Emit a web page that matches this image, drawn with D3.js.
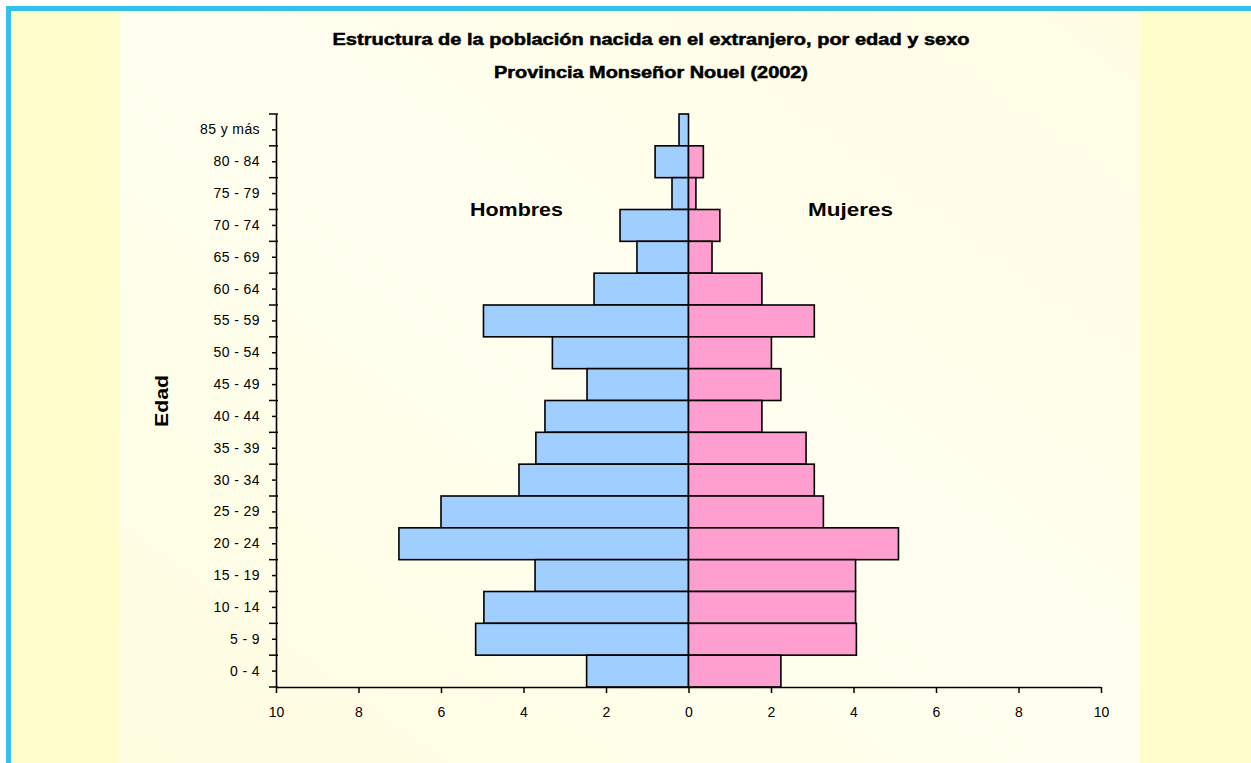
<!DOCTYPE html>
<html>
<head>
<meta charset="utf-8">
<script src="https://cdn.jsdelivr.net/npm/d3@7"></script>
<style>
html,body{margin:0;padding:0;background:#ffffff;}
svg{display:block;}
</style>
</head>
<body>
<svg id="chart" width="1251" height="763"></svg>
<script>
const ageGroups = ["85 y más","80 - 84","75 - 79","70 - 74","65 - 69","60 - 64","55 - 59","50 - 54","45 - 49","40 - 44","35 - 39","30 - 34","25 - 29","20 - 24","15 - 19","10 - 14","5 - 9","0 - 4"];
const hombres = [0.23,0.81,0.40,1.66,1.25,2.29,4.97,3.30,2.46,3.48,3.70,4.11,6.00,7.02,3.72,4.96,5.16,2.47];
const mujeres = [0.00,0.36,0.18,0.76,0.57,1.78,3.05,2.01,2.24,1.78,2.85,3.05,3.27,5.09,4.05,4.05,4.07,2.24];
const xTicks = [-10,-8,-6,-4,-2,0,2,4,6,8,10];
const titleLines = ["Estructura de la población nacida en el extranjero, por edad y sexo","Provincia Monseñor Nouel (2002)"];
const sexLabels = ["Hombres","Mujeres"];
const yTitle = "Edad";

const FONT = "Liberation Sans, Arial, sans-serif";
const svg = d3.select("#chart");
// backgrounds
svg.append("rect").attr("x",6).attr("y",6).attr("width",1245).attr("height",757).attr("fill","#33c3ea");
svg.append("rect").attr("x",11).attr("y",11).attr("width",1240).attr("height",752).attr("fill","#fffdcc");
const defs = svg.append("defs");
const grad = defs.append("linearGradient").attr("id","bg").attr("x1","0").attr("y1","1").attr("x2","1").attr("y2","0");
grad.append("stop").attr("offset","0").attr("stop-color","#fffde0");
grad.append("stop").attr("offset","0.5").attr("stop-color","#fffff0");
grad.append("stop").attr("offset","1").attr("stop-color","#fffde4");
svg.append("rect").attr("x",120).attr("y",11).attr("width",1020).attr("height",752).attr("fill","url(#bg)");

const x = d3.scaleLinear().domain([-10,10]).range([276,1101]);
const y = d3.scaleBand().domain(ageGroups).range([114,687]).padding(0);

// title
svg.append("text").attr("x",651).attr("y",45).attr("text-anchor","middle")
  .attr("font-family",FONT).attr("font-weight","bold").attr("font-size",16)
  .attr("stroke","#000").attr("stroke-width",0.5)
  .attr("textLength",637).attr("lengthAdjust","spacingAndGlyphs").text(titleLines[0]);
svg.append("text").attr("x",651).attr("y",78).attr("text-anchor","middle")
  .attr("font-family",FONT).attr("font-weight","bold").attr("font-size",16)
  .attr("stroke","#000").attr("stroke-width",0.5)
  .attr("textLength",314).attr("lengthAdjust","spacingAndGlyphs").text(titleLines[1]);

// bars
const g = svg.append("g");
g.selectAll("rect.h").data(ageGroups).enter().append("rect").attr("class","h")
  .attr("x",(d,i)=>x(-hombres[i])).attr("y",d=>y(d))
  .attr("width",(d,i)=>x(0)-x(-hombres[i])).attr("height",y.bandwidth())
  .attr("fill","#a0cfff").attr("stroke","#000").attr("stroke-width",1.6);
g.selectAll("rect.m").data(ageGroups.filter((d,i)=>mujeres[i]>0)).enter().append("rect").attr("class","m")
  .attr("x",x(0)).attr("y",d=>y(d))
  .attr("width",d=>x(mujeres[ageGroups.indexOf(d)])-x(0)).attr("height",y.bandwidth())
  .attr("fill","#ff9fcf").attr("stroke","#000").attr("stroke-width",1.6);

// x axis
const xAxis = d3.axisBottom(x).tickValues(xTicks).tickFormat(d=>Math.abs(d)).tickSize(6).tickSizeOuter(0).tickPadding(14);
const gx = svg.append("g").attr("transform","translate(0,687)").call(xAxis);
gx.select(".domain").attr("stroke","#000").attr("stroke-width",1.6);
gx.selectAll(".tick line").attr("stroke","#000").attr("stroke-width",1.5);
gx.selectAll(".tick text").attr("font-family",FONT).attr("font-size",14).attr("fill","#000");

// y axis
const yAxis = d3.axisLeft(y).tickSize(4).tickSizeOuter(0).tickPadding(12);
const gy = svg.append("g").attr("transform","translate(276,0)").call(yAxis);
gy.select(".domain").attr("stroke","#000").attr("stroke-width",1.6);
gy.selectAll(".tick line").attr("stroke","#000").attr("stroke-width",1.5);
gy.selectAll(".tick text").attr("font-family",FONT).attr("font-size",14).attr("fill","#000").attr("letter-spacing","0.4px");
// boundary ticks
const bounds = ageGroups.map(d=>y(d)).concat([y(ageGroups[ageGroups.length-1])+y.bandwidth()]);
gy.selectAll("line.b").data(bounds).enter().append("line").attr("class","b")
  .attr("x1",-7).attr("x2",2).attr("y1",d=>d).attr("y2",d=>d)
  .attr("stroke","#000").attr("stroke-width",1.5);

// sex labels
svg.append("text").attr("x",470).attr("y",216)
  .attr("font-family",FONT).attr("font-weight","bold").attr("font-size",18)
  .attr("textLength",93).attr("lengthAdjust","spacingAndGlyphs").text(sexLabels[0]);
svg.append("text").attr("x",808).attr("y",216)
  .attr("font-family",FONT).attr("font-weight","bold").attr("font-size",18)
  .attr("textLength",85).attr("lengthAdjust","spacingAndGlyphs").text(sexLabels[1]);

// y title
svg.append("text").attr("transform","translate(168,401) rotate(-90)").attr("text-anchor","middle")
  .attr("font-family",FONT).attr("font-weight","bold").attr("font-size",18)
  .attr("textLength",52).attr("lengthAdjust","spacingAndGlyphs").text(yTitle);
</script>
</body>
</html>
